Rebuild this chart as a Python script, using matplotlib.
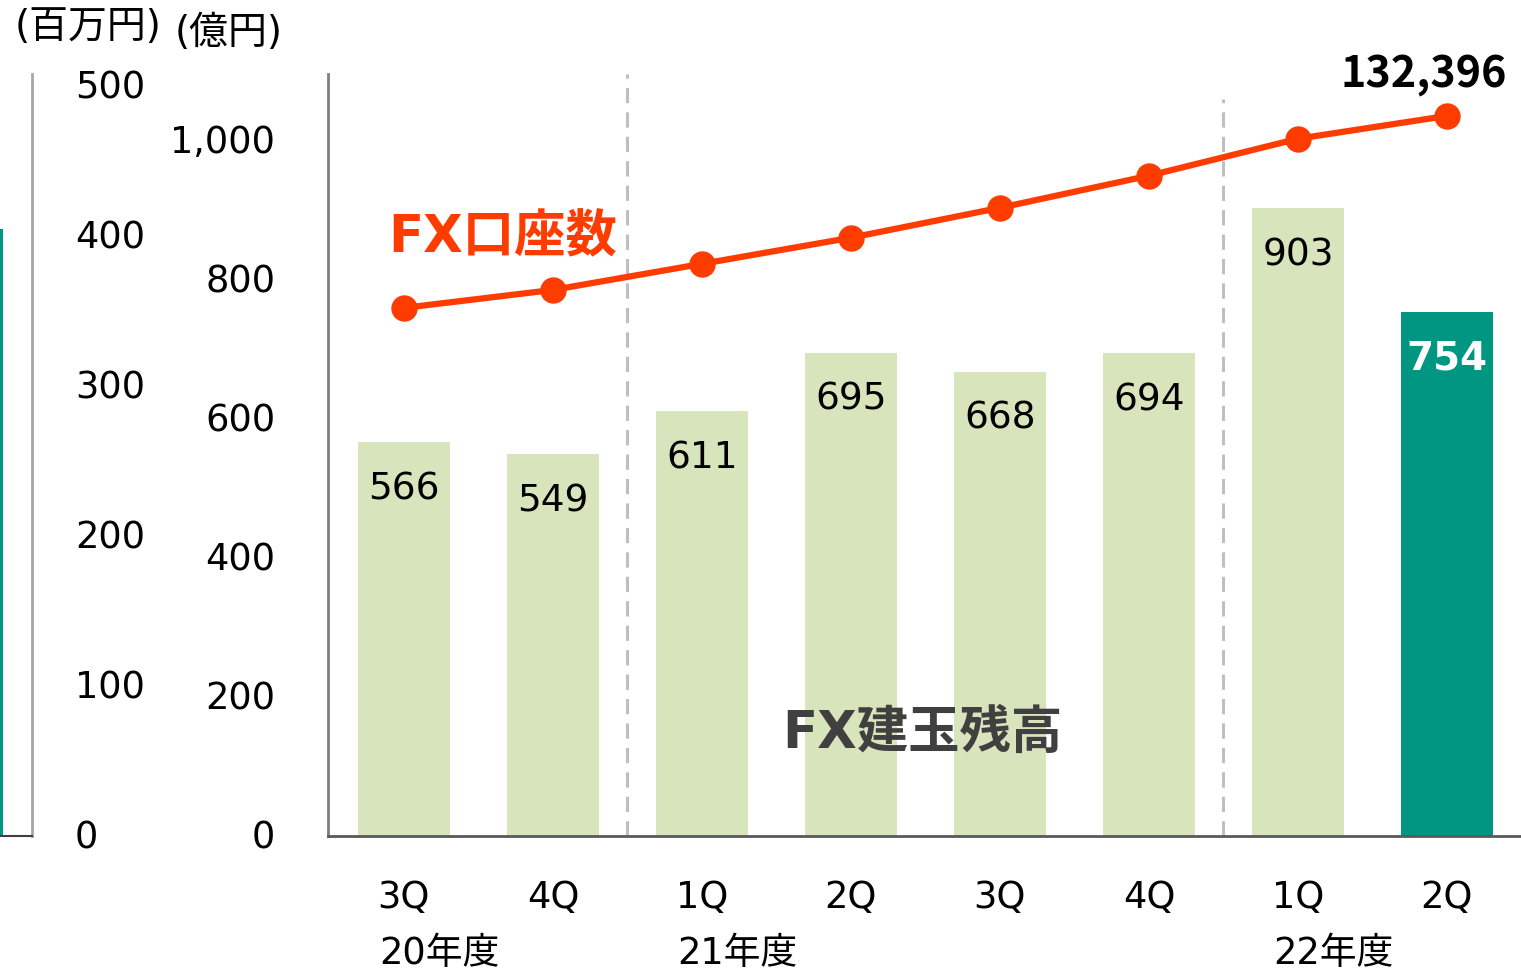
import matplotlib
matplotlib.use("Agg")
import matplotlib.pyplot as plt
import matplotlib.transforms as mtransforms

# DejaVu for latin/digits (Verdana-like), Noto CJK for Japanese
plt.rcParams['font.family'] = ['DejaVu Sans', 'Noto Sans CJK JP']

# data
quarters = ['3Q', '4Q', '1Q', '2Q', '3Q', '4Q', '1Q', '2Q']
years = {0: '20年度', 2: '21年度', 6: '22年度'}
balance = [566, 549, 611, 695, 668, 694, 903, 754]           # FX建玉残高 (億円)
accounts = [97100, 100400, 105200, 110000, 115500, 121400, 128200, 132396]  # FX口座数
prev_chart_last = [405]                                        # left chart, last bar (百万円)
yticks_main = [0, 200, 400, 600, 800, 1000]
yticks_prev = [0, 100, 200, 300, 400, 500]

light = '#D8E4BC'
teal = '#009682'
red = '#FF3C00'

W, H = 1521, 970
fig = plt.figure(figsize=(W / 100, H / 100), dpi=100)
lift = mtransforms.ScaledTranslation(0, 3 / 100, fig.dpi_scale_trans)

# left (cut-off) chart: its right axis and last bar
ax0 = fig.add_axes([0, (H - 837) / H, 32 / W, 762 / H])
ax0.bar([-10], prev_chart_last, width=13, align='edge', color=teal)
ax0.set_xlim(0, 32)
ax0.set_ylim(0, 508)
for s in ['left', 'top']:
    ax0.spines[s].set_visible(False)
ax0.spines['right'].set_color('#A6A6A6')
ax0.spines['right'].set_linewidth(2)
ax0.spines['bottom'].set_color('#404040')
ax0.spines['bottom'].set_linewidth(1.5)
ax0.set_xticks([])
ax0.yaxis.tick_right()
ax0.set_yticks(yticks_prev)
ax0.tick_params(axis='y', length=0, pad=31, labelsize=26.5)
for t in ax0.get_yticklabels():
    t.set_horizontalalignment('left')
    t.set_transform(t.get_transform() + lift)

# main chart
ax = fig.add_axes([328 / W, (H - 837) / H, (W - 328) / W, 762 / H])
x = list(range(len(quarters)))
colors = [light] * (len(x) - 1) + [teal]
ax.bar(x, balance, width=0.62, color=colors, zorder=2)
ax.set_xlim(-0.51, 7.497)
ax.set_ylim(0, 1096)
for s in ['right', 'top']:
    ax.spines[s].set_visible(False)
ax.spines['left'].set_color('#7F7F7F')
ax.spines['left'].set_linewidth(2)
ax.spines['bottom'].set_color('#595959')
ax.spines['bottom'].set_linewidth(2)
ax.set_yticks(yticks_main)
ax.set_yticklabels([f'{v:,}' for v in yticks_main])
ax.tick_params(axis='y', length=0, pad=38, labelsize=26.5)
for t in ax.get_yticklabels():
    t.set_transform(t.get_transform() + lift)
ax.set_xticks(x)
ax.set_xticklabels(quarters)
ax.tick_params(axis='x', length=0, pad=30, labelsize=26.5)
for i, lab in years.items():
    ax.annotate(lab, xy=(i - 0.165, 0), xycoords='data', xytext=(0, -84),
                textcoords='offset points', ha='left', va='center', fontsize=26.5)

# dashed separators
for xs, top in [(1.5, 1096), (5.5, 1060)]:
    ax.plot([xs, xs], [0, top], color='#BFBFBF', lw=2.2, ls=(0, (5, 3)), zorder=1)

# value labels
for i, v in enumerate(balance):
    last = i == len(balance) - 1
    ax.annotate(f'{v}', xy=(i, v), xytext=(0, -33), textcoords='offset points',
                ha='center', va='center', fontsize=28 if last else 27,
                color='white' if last else 'black',
                fontweight='bold' if last else 'normal', zorder=3)

ax.text(3.48, 149, 'FX建玉残高', ha='center', va='center', fontsize=37,
        fontweight='bold', color='#404040', zorder=3)

# accounts line
ax2 = ax.twinx()
ax2.set_ylim(0, 140100)
ax2.axis('off')
ax2.plot(x, accounts, color=red, lw=4.5, marker='o', markersize=18, zorder=4)
ax2.annotate(f'{accounts[-1]:,}', xy=(x[-1], accounts[-1]), xytext=(-17, 31),
             textcoords='offset points', ha='center', va='center',
             fontsize=31, fontweight='bold', color='black',
             family=['Noto Sans CJK JP', 'DejaVu Sans'])
ax2.text(0.66, 110000, 'FX口座数', ha='center', va='center', fontsize=37,
         fontweight='bold', color=red)

# unit labels
fig.text(15 / W, 1 - 27 / H, '(百万円)', ha='left', va='center', fontsize=28)
fig.text(175 / W, 1 - 33 / H, '(億円)', ha='left', va='center', fontsize=28)

fig.savefig('out.png', dpi=100)
